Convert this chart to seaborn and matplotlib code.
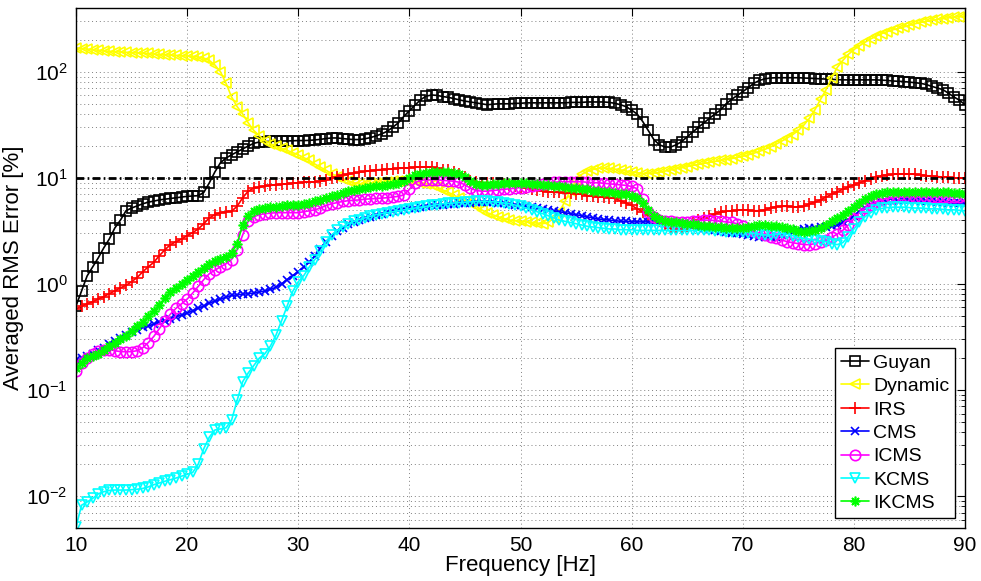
import numpy as np
import pandas as pd
import matplotlib
matplotlib.use("Agg")
import matplotlib.pyplot as plt
import seaborn as sns
from matplotlib.ticker import LogLocator, LogFormatterMathtext, NullFormatter

# ---------------- data ----------------
freq = np.arange(10, 90.01, 0.5)   # Hz, 161 samples

guyan = [
    0.62, 0.86, 1.19, 1.45, 1.76, 2.19, 2.66, 3.38, 4.0, 4.9,
    5.2, 5.45, 5.7, 5.9, 6.05, 6.2, 6.3, 6.4, 6.5, 6.6,
    6.7, 6.75, 6.8, 7.3, 9.0, 11.4, 13.9, 15.4, 16.5, 17.6,
    18.8, 20.0, 21.2, 21.8, 22.0, 22.1, 22.2, 22.3, 22.3, 22.4,
    22.5, 22.5, 22.6, 22.8, 23.1, 23.5, 23.8, 23.8, 23.5, 23.2,
    23.0, 23.0, 23.4, 24.0, 24.9, 26.0, 27.5, 30.0, 33.0, 38.0,
    43.0, 48.5, 54.5, 59.0, 60.5, 60.0, 58.5, 57.5, 56.0, 54.5,
    53.0, 52.0, 51.0, 50.0, 49.0, 49.5, 50.0, 50.0, 50.0, 50.5,
    50.5, 51.0, 51.0, 51.0, 51.0, 51.0, 51.0, 51.0, 51.0, 51.5,
    51.5, 51.5, 52.0, 52.0, 52.0, 52.0, 51.5, 50.5, 49.0, 47.0,
    43.5, 40.0, 34.0, 28.0, 23.0, 20.5, 19.6, 19.5, 20.5, 22.0,
    24.4, 27.0, 30.0, 33.0, 36.5, 40.0, 43.7, 50.0, 55.0, 60.0,
    65.0, 71.0, 78.0, 83.0, 86.0, 87.5, 88.0, 88.0, 88.0, 88.0,
    88.0, 87.5, 87.0, 86.5, 86.0, 85.5, 85.0, 84.5, 84.0, 84.0,
    84.0, 84.0, 84.0, 84.0, 84.0, 83.5, 83.0, 82.0, 81.5, 81.0,
    80.0, 79.0, 78.0, 76.0, 73.0, 70.5, 68.0, 63.0, 58.0, 54.0,
    49.0]

dynamic = [
    168, 166, 164, 162, 160, 158, 156, 155, 154, 153,
    152, 151, 150, 149, 147, 146, 145, 144, 143, 142,
    141, 140, 138, 135, 128, 116, 100, 78, 58, 47,
    40, 33, 28, 25, 22.5, 21, 19.8, 19, 18.2, 17.3,
    16.5, 15.5, 14.6, 13.5, 12.6, 11.8, 11.0, 10.3, 9.8, 9.4,
    9.0, 8.8, 8.8, 8.9, 9.0, 9.1, 9.2, 9.3, 9.4, 9.5,
    9.6, 9.4, 9.0, 8.8, 8.6, 8.2, 7.7, 7.3, 6.9, 6.4,
    6.1, 5.8, 5.4, 5.0, 4.7, 4.5, 4.3, 4.15, 4.0, 3.95,
    3.9, 3.85, 3.8, 3.75, 3.7, 3.8, 4.2, 4.8, 6.0, 7.6,
    9.6, 10.8, 11.5, 12.0, 12.3, 12.4, 12.3, 12.1, 11.9, 11.6,
    11.4, 11.2, 11.0, 11.0, 11.1, 11.3, 11.6, 11.9, 12.2, 12.5,
    12.8, 13.1, 13.4, 13.7, 14.0, 14.3, 14.6, 14.9, 15.2, 15.6,
    16.0, 16.5, 17.1, 17.8, 18.6, 19.6, 20.8, 22.2, 23.8, 25.6,
    28.0, 31.5, 36.5, 44.0, 55.0, 68.0, 88.0, 110.0, 128.0, 146.0,
    162, 176, 190, 204, 217, 229, 240, 249, 257, 265,
    275, 284, 292, 299, 305, 312, 318, 324, 328, 331,
    333]

irs = [
    0.58, 0.62, 0.65, 0.68, 0.72, 0.76, 0.81, 0.86, 0.92, 0.97,
    1.05, 1.15, 1.3, 1.45, 1.6, 1.85, 2.1, 2.35, 2.5, 2.65,
    2.85, 3.05, 3.3, 3.7, 4.2, 4.5, 4.7, 4.8, 4.85, 5.4,
    6.5, 7.5, 8.0, 8.2, 8.4, 8.5, 8.6, 8.7, 8.8, 8.9,
    9.0, 9.1, 9.15, 9.2, 9.3, 9.5, 9.9, 10.3, 10.6, 10.9,
    11.1, 11.3, 11.5, 11.7, 11.9, 12.0, 12.1, 12.2, 12.3, 12.4,
    12.5, 12.6, 12.7, 12.7, 12.6, 12.4, 12.0, 11.8, 11.4, 11.0,
    10.2, 9.3, 9.1, 9.0, 9.0, 8.9, 8.8, 8.7, 8.5, 8.3,
    8.2, 8.1, 7.9, 7.7, 7.5, 7.4, 7.3, 7.3, 7.2, 7.2,
    7.1, 7.0, 6.8, 6.7, 6.6, 6.6, 6.5, 6.4, 6.1, 5.8,
    5.5, 5.1, 4.8, 4.5, 4.2, 3.9, 3.6, 3.4, 3.3, 3.3,
    3.5, 3.75, 4.0, 4.2, 4.4, 4.6, 4.75, 4.85, 4.9, 4.95,
    5.0, 4.95, 4.9, 4.9, 5.0, 5.2, 5.35, 5.4, 5.4, 5.35,
    5.3, 5.4, 5.7, 5.9, 6.2, 6.6, 7.0, 7.4, 7.8, 8.2,
    8.6, 9.0, 9.4, 9.8, 10.2, 10.5, 10.7, 10.8, 10.9, 10.9,
    10.9, 10.8, 10.7, 10.5, 10.4, 10.3, 10.2, 10.1, 10.0, 10.0,
    10.0]

cms = [
    0.19, 0.2, 0.21, 0.22, 0.24, 0.25, 0.27, 0.29, 0.31, 0.33,
    0.35, 0.37, 0.39, 0.4, 0.42, 0.44, 0.45, 0.47, 0.49, 0.51,
    0.53, 0.56, 0.59, 0.62, 0.66, 0.69, 0.72, 0.75, 0.78, 0.79,
    0.8, 0.81, 0.82, 0.84, 0.86, 0.89, 0.93, 1.0, 1.1, 1.2,
    1.3, 1.45, 1.6, 1.85, 2.15, 2.5, 2.85, 3.15, 3.4, 3.65,
    3.85, 4.0, 4.15, 4.3, 4.45, 4.6, 4.75, 4.85, 4.95, 5.05,
    5.15, 5.25, 5.35, 5.45, 5.5, 5.55, 5.6, 5.65, 5.7, 5.75,
    5.8, 5.85, 5.9, 5.9, 5.9, 5.9, 5.85, 5.8, 5.7, 5.6,
    5.5, 5.4, 5.3, 5.2, 5.1, 5.0, 4.9, 4.8, 4.7, 4.6,
    4.5, 4.4, 4.3, 4.2, 4.1, 4.05, 4.0, 3.95, 3.9, 3.9,
    3.85, 3.85, 3.85, 3.85, 3.85, 3.85, 3.8, 3.75, 3.7, 3.65,
    3.6, 3.5, 3.4, 3.35, 3.3, 3.2, 3.15, 3.1, 3.05, 3.0,
    2.95, 2.9, 2.85, 2.8, 2.75, 2.75, 2.8, 2.9, 3.0, 3.1,
    3.2, 3.3, 3.35, 3.4, 3.45, 3.45, 3.5, 3.6, 3.8, 4.0,
    4.4, 4.8, 5.2, 5.5, 5.7, 5.8, 5.9, 6.0, 6.1, 6.2,
    6.2, 6.2, 6.1, 6.0, 6.0, 5.9, 5.9, 5.85, 5.8, 5.8,
    5.8]

icms = [
    0.15, 0.18, 0.2, 0.22, 0.235, 0.24, 0.24, 0.235, 0.23, 0.23,
    0.23, 0.235, 0.25, 0.28, 0.32, 0.38, 0.45, 0.52, 0.59, 0.65,
    0.72, 0.82, 0.95, 1.1, 1.25, 1.35, 1.45, 1.55, 1.7, 2.1,
    2.9, 3.9, 4.3, 4.5, 4.6, 4.65, 4.7, 4.7, 4.7, 4.7,
    4.7, 4.8, 4.9, 5.0, 5.2, 5.5, 5.7, 5.85, 6.0, 6.1,
    6.15, 6.2, 6.3, 6.35, 6.4, 6.45, 6.5, 6.6, 6.7, 6.9,
    7.8, 9.0, 9.5, 9.6, 9.6, 9.6, 9.5, 9.4, 9.3, 9.1,
    8.6, 8.0, 7.6, 7.5, 7.5, 7.6, 7.7, 7.8, 7.9, 8.0,
    8.1, 8.2, 8.4, 8.6, 8.8, 9.0, 9.1, 9.2, 9.2, 9.2,
    9.2, 9.2, 9.1, 9.0, 9.0, 8.9, 8.8, 8.7, 8.6, 8.5,
    8.3, 7.9, 6.3, 4.8, 4.3, 4.05, 3.95, 3.9, 3.85, 3.85,
    3.85, 3.9, 3.95, 4.0, 4.0, 3.95, 3.9, 3.85, 3.8, 3.7,
    3.5, 3.3, 3.15, 3.0, 2.9, 2.8, 2.7, 2.6, 2.5, 2.45,
    2.4, 2.35, 2.35, 2.4, 2.5, 2.6, 2.75, 2.95, 3.2, 3.6,
    4.1, 4.7, 5.2, 5.6, 5.9, 6.2, 6.4, 6.5, 6.6, 6.6,
    6.6, 6.6, 6.6, 6.6, 6.6, 6.6, 6.6, 6.6, 6.6, 6.65,
    6.8]

kcms = [
    0.0051, 0.0082, 0.0088, 0.0095, 0.0105, 0.011, 0.0113, 0.0114, 0.0114, 0.0114,
    0.0115, 0.0116, 0.0118, 0.0122, 0.0128, 0.0133, 0.0138, 0.0143, 0.0148, 0.0154,
    0.016, 0.0167, 0.02, 0.028, 0.036, 0.042, 0.043, 0.044, 0.052, 0.08,
    0.12, 0.145, 0.17, 0.2, 0.22, 0.26, 0.33, 0.45, 0.62, 0.85,
    1.05, 1.2, 1.45, 1.7, 2.05, 2.5, 2.9, 3.2, 3.45, 3.7,
    3.9, 4.05, 4.2, 4.35, 4.5, 4.6, 4.7, 4.8, 4.9, 5.0,
    5.1, 5.2, 5.3, 5.4, 5.5, 5.6, 5.7, 5.75, 5.8, 5.85,
    5.9, 5.95, 6.0, 6.0, 6.0, 5.95, 5.9, 5.8, 5.7, 5.55,
    5.4, 5.2, 5.0, 4.8, 4.6, 4.4, 4.2, 4.0, 3.9, 3.8,
    3.7, 3.6, 3.5, 3.45, 3.4, 3.35, 3.3, 3.3, 3.25, 3.25,
    3.25, 3.2, 3.2, 3.2, 3.2, 3.2, 3.2, 3.2, 3.2, 3.2,
    3.2, 3.2, 3.2, 3.2, 3.2, 3.15, 3.15, 3.1, 3.1, 3.1,
    3.1, 3.05, 3.0, 2.95, 2.9, 2.9, 2.95, 3.0, 2.95, 2.85,
    2.75, 2.7, 2.65, 2.6, 2.55, 2.5, 2.4, 2.35, 2.45, 2.8,
    3.3, 3.8, 4.3, 4.7, 5.0, 5.15, 5.25, 5.3, 5.3, 5.3,
    5.25, 5.2, 5.2, 5.15, 5.1, 5.1, 5.05, 5.0, 5.0, 4.95,
    4.9]

ikcms = [
    0.16, 0.18, 0.2, 0.21, 0.22, 0.24, 0.26, 0.28, 0.3, 0.32,
    0.36, 0.4, 0.44, 0.5, 0.56, 0.64, 0.74, 0.84, 0.92, 1.0,
    1.1, 1.2, 1.3, 1.42, 1.55, 1.65, 1.72, 1.8, 1.95, 2.4,
    3.6, 4.4, 4.9, 5.1, 5.2, 5.3, 5.35, 5.4, 5.5, 5.55,
    5.6, 5.7, 5.85, 6.0, 6.2, 6.45, 6.7, 6.95, 7.2, 7.45,
    7.7, 7.9, 8.05, 8.2, 8.3, 8.4, 8.5, 8.7, 9.0, 9.4,
    10.0, 10.6, 11.0, 11.2, 11.3, 11.4, 11.4, 11.3, 11.1, 10.8,
    10.2, 9.3, 8.8, 8.6, 8.6, 8.7, 8.8, 8.9, 9.0, 9.0,
    9.0, 8.9, 8.8, 8.7, 8.6, 8.5, 8.4, 8.3, 8.2, 8.1,
    8.0, 7.9, 7.8, 7.6, 7.5, 7.4, 7.3, 7.2, 7.1, 7.0,
    6.8, 6.4, 5.8, 5.0, 4.4, 4.1, 3.95, 3.85, 3.8, 3.75,
    3.7, 3.65, 3.6, 3.55, 3.5, 3.45, 3.45, 3.4, 3.4, 3.4,
    3.4, 3.45, 3.55, 3.6, 3.6, 3.55, 3.5, 3.45, 3.4, 3.3,
    3.15, 3.1, 3.15, 3.25, 3.4, 3.6, 3.9, 4.2, 4.5, 4.9,
    5.3, 5.8, 6.3, 6.7, 7.0, 7.2, 7.3, 7.4, 7.4, 7.4,
    7.4, 7.4, 7.4, 7.4, 7.4, 7.35, 7.3, 7.3, 7.25, 7.2,
    7.1]

methods = ["Guyan", "Dynamic", "IRS", "CMS", "ICMS", "KCMS", "IKCMS"]
series = [guyan, dynamic, irs, cms, icms, kcms, ikcms]
threshold = 10.0
x_ticks = [10, 20, 30, 40, 50, 60, 70, 80, 90]

# ---------------- styles ----------------
colors = ["#000000", "#ffff00", "#ff0000", "#0000ff", "#ff00ff", "#00ffff", "#00ff00"]
markers = ["s", "<", "+", "x", "o", "v", (8, 2, 0)]
msizes = [7.5, 7.5, 9, 5.5, 7.5, 7.5, 7]

sns.set_style("white")
plt.rcParams["font.family"] = ["Liberation Sans", "DejaVu Sans"]
plt.rcParams["mathtext.default"] = "regular"
for k in ["text.color", "axes.labelcolor", "xtick.color", "ytick.color"]:
    plt.rcParams[k] = "black"

fig = plt.figure(figsize=(9.81, 5.81), dpi=100)
ax = fig.add_axes([76 / 981, 53 / 581, 889 / 981, 520 / 581])

df = pd.DataFrame({"freq": np.tile(freq, len(methods)),
                   "err": np.concatenate([np.asarray(s, float) for s in series]),
                   "method": np.repeat(methods, len(freq))})

for name, c, m, ms in zip(methods, colors, markers, msizes):
    sub = df[df["method"] == name]
    sns.lineplot(data=sub, x="freq", y="err", ax=ax, color=c, marker=m,
                 markersize=ms, markerfacecolor="none", markeredgecolor=c,
                 markeredgewidth=1.2, linewidth=1.2, label=name,
                 errorbar=None, sort=False)

ax.axhline(threshold, color="black", linewidth=2.0,
           linestyle=(0, (2.8, 1.2, 0.6, 1.2)), zorder=5)

ax.set_yscale("log")
ax.set_xlim(10, 90)
ax.set_ylim(0.005, 400)
ax.set_xticks(x_ticks)
ax.set_xticklabels([str(t) for t in x_ticks])
ax.yaxis.set_major_locator(LogLocator(base=10, numticks=10))
ax.yaxis.set_minor_locator(LogLocator(base=10, subs=np.arange(2, 10), numticks=20))
ax.yaxis.set_major_formatter(LogFormatterMathtext())
ax.yaxis.set_minor_formatter(NullFormatter())

ax.grid(True, which="major", axis="both", color="0.5", linestyle=(0, (1, 3)), linewidth=0.7)
ax.grid(True, which="minor", axis="y", color="0.5", linestyle=(0, (1, 3)), linewidth=0.7)

ax.tick_params(which="major", direction="in", length=6, width=0.8, top=True, right=True,
               labelsize=15, colors="black", pad=6)
ax.tick_params(which="minor", direction="in", length=3, width=0.6, top=True, right=True)
for sp in ax.spines.values():
    sp.set_color("black")
    sp.set_linewidth(1.0)
    sp.set_visible(True)

ax.set_xlabel("Frequency [Hz]", fontsize=16, labelpad=0)
ax.set_ylabel("Averaged RMS Error [%]", fontsize=16, labelpad=2)

leg = ax.legend(loc="lower right", bbox_to_anchor=(0.989, 0.019), borderaxespad=0,
                fontsize=14, frameon=True, fancybox=False, framealpha=1,
                edgecolor="black", handlelength=1.45, handletextpad=0.2,
                labelspacing=0.3, borderpad=0.3)
leg.get_frame().set_linewidth(1.0)

fig.savefig("out.png", dpi=100, facecolor="white")
